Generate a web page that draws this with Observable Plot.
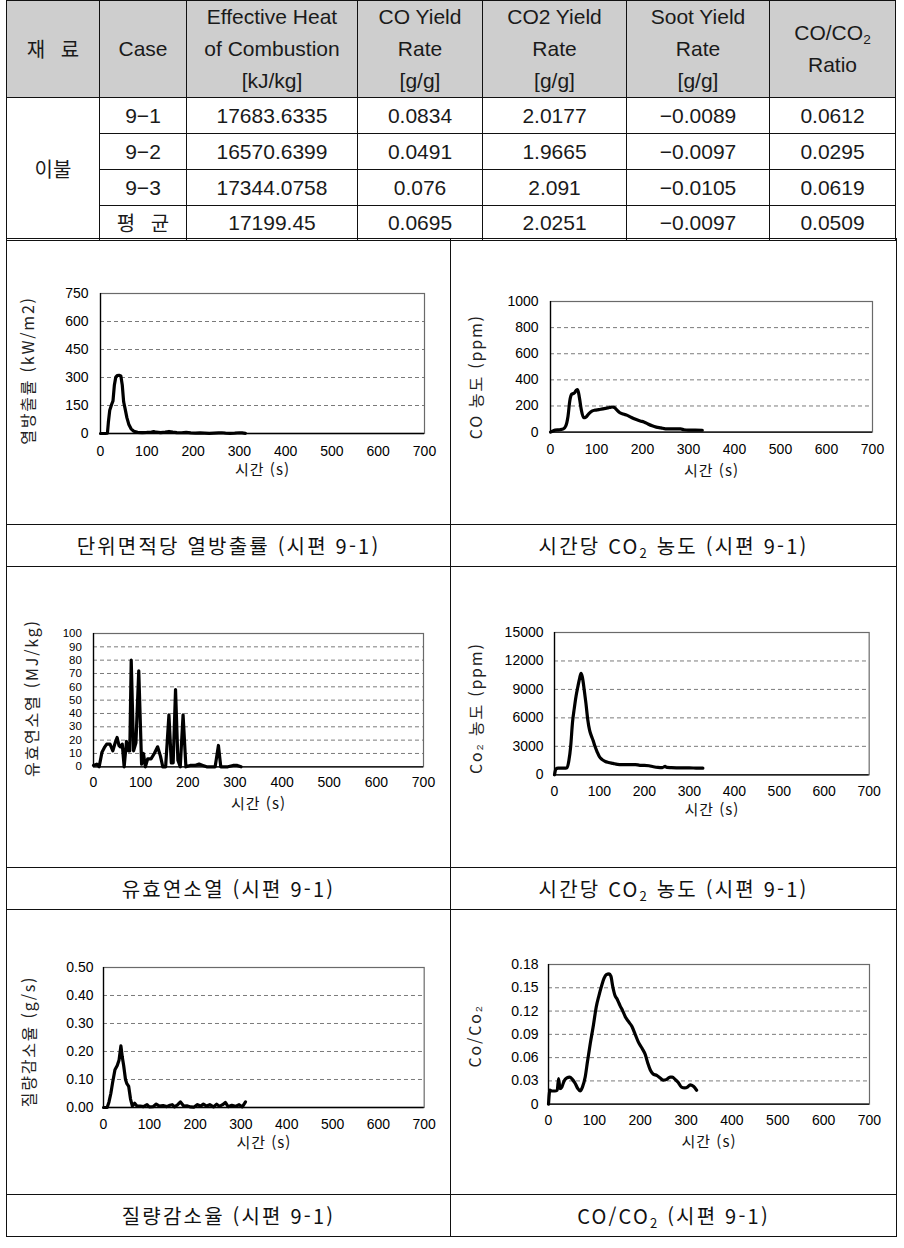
<!DOCTYPE html>
<html lang="ko">
<head>
<meta charset="utf-8">
<script src="https://cdn.jsdelivr.net/npm/d3@7"></script>
<script src="https://cdn.jsdelivr.net/npm/@observablehq/plot@0.6"></script>
<style>
html,body{margin:0;padding:0;background:#fff;}
#page{position:relative;width:904px;height:1248px;overflow:hidden;background:#fff;}
table{position:absolute;border-collapse:collapse;table-layout:fixed;}
td,th{border:1.5px solid #111;padding:0;text-align:center;vertical-align:middle;}
#data{left:6px;top:0;width:890px;font-family:'Liberation Sans','Noto Sans CJK KR',sans-serif;font-size:21px;color:#1a1a1a;}
#data th{background:#cecece;font-weight:normal;line-height:32px;}
#data td{line-height:24px;}
#data .ko{font-family:'Noto Sans CJK KR',sans-serif;font-size:20px;word-spacing:10px;}
#figs{left:6px;top:238px;width:890px;font-family:'Noto Sans CJK KR',sans-serif;font-size:20px;color:#111;}
#figs td.cap{letter-spacing:2.2px;}
sub{font-size:65%;vertical-align:-0.3em;line-height:0;}
</style>
</head>
<body>
<div id="page"></div>
<script>
// ---------------- table data ----------------
const headerLines = [["재 료"], ["Case"], ["Effective Heat", "of Combustion", "[kJ/kg]"], ["CO Yield", "Rate", "[g/g]"], ["CO2 Yield", "Rate", "[g/g]"], ["Soot Yield", "Rate", "[g/g]"], ["CO/CO₂", "Ratio"]];
const materialName = "이불";
const caseLabels = ["9-1", "9-2", "9-3", "평 균"];
const ehcValues = [17683.6335, 16570.6399, 17344.0758, 17199.45];
const coYield = [0.0834, 0.0491, 0.076, 0.0695];
const co2Yield = [2.0177, 1.9665, 2.091, 2.0251];
const sootYield = [-0.0089, -0.0097, -0.0105, -0.0097];
const ratioValues = [0.0612, 0.0295, 0.0619, 0.0509];

// ---------------- chart data ----------------
const xTicks = [0, 100, 200, 300, 400, 500, 600, 700];
const xTitle = "시간 (s)";
const yTitles = ["열방출률 (kW/m2)", "CO 농도 (ppm)", "유효연소열 (MJ/kg)", "Co₂ 농도 (ppm)", "질량감소율 (g/s)", "Co/Co₂"];
const captions = ["단위면적당 열방출률 (시편 9-1)", "시간당 CO₂ 농도 (시편 9-1)", "유효연소열 (시편 9-1)", "시간당 CO₂ 농도 (시편 9-1)", "질량감소율 (시편 9-1)", "CO/CO₂ (시편 9-1)"];

const hrrTicks = [0, 150, 300, 450, 600, 750];
const hrrTime = [0, 5, 10, 15, 17, 20, 24, 27, 30, 33, 36, 40, 44, 47, 50, 53, 57, 61, 66, 72, 80, 90, 100, 110, 115, 120, 130, 140, 148, 156, 165, 175, 185, 195, 205, 215, 225, 235, 245, 255, 262, 270, 280, 290, 300, 306, 313];
const hrrValue = [0, 0, 0, 2, 60, 125, 155, 175, 260, 302, 310, 312, 308, 260, 170, 135, 85, 50, 25, 12, 6, 5, 6, 8, 10, 7, 5, 7, 11, 7, 5, 4, 6, 3, 2, 3, 2, 1, 2, 3, 4, 2, 1, 2, 4, 3, 1];

const coTicks = [0, 200, 400, 600, 800, 1000];
const coTime = [0, 5, 10, 20, 28, 33, 38, 42, 46, 52, 56, 59, 63, 67, 72, 77, 83, 90, 97, 105, 113, 120, 128, 134, 139, 144, 150, 158, 167, 176, 185, 195, 203, 212, 221, 230, 240, 250, 260, 270, 283, 290, 300, 315, 330];
const coValue = [0, 8, 15, 18, 25, 45, 120, 240, 290, 300, 320, 325, 260, 170, 110, 115, 140, 160, 168, 172, 178, 182, 188, 192, 188, 170, 150, 138, 128, 112, 98, 85, 78, 62, 48, 38, 32, 25, 25, 25, 24, 18, 15, 15, 14];

const ehcTicks = [0, 10, 20, 30, 40, 50, 60, 70, 80, 90, 100];
const ehcTime = [0, 7, 12, 18, 24, 28, 35, 41, 46, 50, 54, 57, 61, 65, 70, 74, 77, 80, 85, 90, 96, 102, 106, 110, 115, 122, 129, 136, 142, 147, 153, 160, 165, 169, 174, 179, 184, 190, 196, 205, 215, 224, 232, 240, 250, 258, 265, 270, 285, 296, 305, 313];
const ehcValue = [1, 2, 0, 11, 15, 17, 17, 12, 18, 22, 16, 15, 17, 0, 19, 12, 12, 80, 12, 18, 72, 2, 10, 0, 6, 6, 10, 15, 8, 0, 0, 39, 3, 3, 58, 5, 0, 39, 0, 1, 1, 2, 1, 0, 0, 0, 16, 0, 0, 1, 1, 0];

const co2Ticks = [0, 3000, 6000, 9000, 12000, 15000];
const co2Time = [0, 3, 8, 15, 22, 28, 32, 36, 40, 44, 48, 52, 56, 59, 62, 66, 70, 74, 78, 82, 86, 90, 95, 100, 106, 113, 120, 130, 140, 150, 160, 170, 180, 190, 200, 210, 220, 230, 240, 246, 250, 260, 280, 300, 315, 330];
const co2Value = [0, 600, 700, 700, 700, 750, 1500, 3000, 5500, 7000, 8300, 9300, 10200, 10700, 10300, 9000, 7500, 5800, 4700, 4100, 3600, 3000, 2400, 1900, 1600, 1400, 1300, 1200, 1100, 1080, 1080, 1080, 1080, 1000, 1000, 950, 850, 780, 760, 880, 780, 760, 730, 720, 710, 700];

const mlrTicks = [0, 0.1, 0.2, 0.3, 0.4, 0.5];
const mlrTime = [0, 8, 12, 16, 20, 25, 30, 34, 38, 41, 44, 48, 51, 55, 59, 63, 68, 73, 80, 87, 95, 100, 108, 115, 122, 130, 138, 145, 150, 155, 162, 168, 175, 182, 190, 197, 205, 212, 218, 225, 232, 240, 247, 253, 260, 266, 272, 280, 288, 296, 303, 310];
const mlrValue = [0, 0, 0.02, 0.05, 0.09, 0.135, 0.15, 0.17, 0.22, 0.18, 0.15, 0.1, 0.085, 0.075, 0.03, 0.005, 0.015, 0.005, 0.005, 0.003, 0.01, 0.002, 0.003, 0.012, 0.005, 0.007, 0.003, 0.008, 0.01, 0.002, 0.01, 0.02, 0.005, 0.006, 0.002, 0.001, 0.01, 0.005, 0.012, 0.005, 0.01, 0.002, 0.012, 0.004, 0.01, 0.018, 0.003, 0.008, 0.004, 0.01, 0.002, 0.02];

const ratioTicks = [0, 0.03, 0.06, 0.09, 0.12, 0.15, 0.18];
const ratioTime = [0, 3, 8, 14, 19, 22, 25, 29, 34, 40, 46, 52, 58, 64, 69, 74, 80, 85, 91, 98, 104, 110, 116, 121, 126, 132, 136, 140, 145, 150, 156, 162, 168, 175, 182, 189, 196, 204, 211, 217, 222, 228, 236, 243, 250, 258, 265, 270, 276, 283, 290, 297, 303, 309, 316, 323];
const ratioValue = [0, 0.018, 0.017, 0.017, 0.018, 0.033, 0.02, 0.022, 0.03, 0.034, 0.035, 0.032, 0.027, 0.02, 0.017, 0.022, 0.035, 0.055, 0.078, 0.102, 0.125, 0.14, 0.153, 0.162, 0.167, 0.168, 0.165, 0.152, 0.14, 0.135, 0.127, 0.12, 0.112, 0.106, 0.1, 0.09, 0.08, 0.072, 0.064, 0.052, 0.044, 0.039, 0.037, 0.034, 0.031, 0.032, 0.035, 0.035, 0.032, 0.028, 0.022, 0.021, 0.022, 0.025, 0.023, 0.018];

// ---------------- layout (positions & styles) ----------------
const colWidths = [93, 87, 171, 125, 144, 143, 126];
const rowHeights = [95, 36, 36, 36, 35];
const figRowHeights = [286, 42, 301, 42, 285, 42];

const page = document.getElementById("page");
const sub2 = s => s.replace(/₂/g, "<sub>2</sub>");
const num = v => v < 0 ? "−" + String(Math.abs(v)) : String(v);
const dash = s => s.replace(/(\d)-(\d)/, "$1−$2");

// data table
{
  let html = "<colgroup>" + colWidths.map(w => `<col style="width:${w}px">`).join("") + "</colgroup>";
  html += `<tr style="height:${rowHeights[0]}px">` + headerLines.map((lines, i) =>
    `<th class="${i === 0 ? "ko" : ""}">${lines.map(sub2).join("<br>")}</th>`).join("") + "</tr>";
  caseLabels.forEach((c, i) => {
    html += `<tr style="height:${rowHeights[i + 1]}px">`;
    if (i === 0) html += `<td rowspan="${caseLabels.length}" class="ko">${materialName}</td>`;
    html += `<td class="${/[가-힣]/.test(c) ? "ko" : ""}">${dash(c)}</td>`;
    html += [ehcValues[i], coYield[i], co2Yield[i], sootYield[i], ratioValues[i]].map(v => `<td>${num(v)}</td>`).join("");
    html += "</tr>";
  });
  const t = document.createElement("table");
  t.id = "data";
  t.innerHTML = html;
  page.appendChild(t);
}

// figure grid table
{
  let html = `<colgroup><col style="width:444px"><col style="width:446px"></colgroup>`;
  for (let r = 0; r < 3; r++) {
    html += `<tr style="height:${figRowHeights[2 * r]}px"><td></td><td></td></tr>`;
    html += `<tr style="height:${figRowHeights[2 * r + 1]}px"><td class="cap">${sub2(captions[2 * r])}</td><td class="cap">${sub2(captions[2 * r + 1])}</td></tr>`;
  }
  const t = document.createElement("table");
  t.id = "figs";
  t.innerHTML = html;
  page.appendChild(t);
}

const series = [
  {time: hrrTime, value: hrrValue, ticks: hrrTicks, format: d => String(d), curve: "linear"},
  {time: coTime, value: coValue, ticks: coTicks, format: d => String(d), curve: "monotone-x"},
  {time: ehcTime, value: ehcValue, ticks: ehcTicks, format: d => String(d), curve: "linear"},
  {time: co2Time, value: co2Value, ticks: co2Ticks, format: d => String(d), curve: "monotone-x"},
  {time: mlrTime, value: mlrValue, ticks: mlrTicks, format: d => d.toFixed(2), curve: "linear"},
  {time: ratioTime, value: ratioValue, ticks: ratioTicks, format: d => d === 0 ? "0" : d.toFixed(2), curve: "monotone-x"}
];

const layouts = [
  {frame: [100, 424, 292.7, 432.7], xPad: 13, yPad: 12, yFont: 14, xTitleDy: 37, yTitleDx: -72, yTitleDy: 7},
  {frame: [550, 872, 300.7, 431.3], xPad: 12, yPad: 12, yFont: 14, xTitleDy: 38.7, yTitleDx: -74, yTitleDy: 10},
  {frame: [93.3, 423.3, 632.7, 766], xPad: 10.7, yPad: 11.6, yFont: 11.5, xTitleDy: 37, yTitleDx: -61, yTitleDy: -2},
  {frame: [554.3, 869, 631.7, 774], xPad: 11, yPad: 11, yFont: 14, xTitleDy: 35, yTitleDx: -78, yTitleDy: 4.5},
  {frame: [103.3, 424, 966.7, 1106.7], xPad: 11.6, yPad: 10, yFont: 14, xTitleDy: 35.5, yTitleDx: -74, yTitleDy: 4},
  {frame: [548.3, 869.3, 964.3, 1104], xPad: 11, yPad: 10, yFont: 14, xTitleDy: 37.7, yTitleDx: -73, yTitleDy: 1.5}
];

const koFont = "'Noto Sans CJK KR', sans-serif";

series.forEach((s, k) => {
  const L = layouts[k];
  const [x0, x1, y0, y1] = L.frame;
  const mL = 100, mR = 20, mT = 15, mB = 55;
  const data = s.time.map((t, i) => ({t, v: s.value[i]}));
  const yMin = s.ticks[0], yMax = s.ticks[s.ticks.length - 1];
  const svg = Plot.plot({
    width: (x1 - x0) + mL + mR,
    height: (y1 - y0) + mT + mB,
    marginLeft: mL, marginRight: mR, marginTop: mT, marginBottom: mB,
    style: {background: "transparent", overflow: "visible", fontFamily: "'Liberation Sans', Arial, sans-serif", fontSize: "14px", color: "#000"},
    x: {domain: [0, 700]},
    y: {domain: [yMin, yMax]},
    marks: [
      Plot.gridY({ticks: s.ticks.slice(1, -1), stroke: "#7a7a7a", strokeOpacity: 1, strokeDasharray: "4,3", strokeWidth: 1}),
      Plot.frame({stroke: "#6a6a6a", strokeWidth: 1.2}),
      Plot.ruleX([0], {stroke: "#000", strokeWidth: 1.3}),
      Plot.ruleY([yMin], {stroke: "#000", strokeWidth: 1.3}),
      Plot.axisX({ticks: xTicks, tickSize: 0, tickPadding: L.xPad, label: null, fontSize: 14, fill: "#000"}),
      Plot.axisY({ticks: s.ticks, tickSize: 0, tickPadding: L.yPad, tickFormat: s.format, label: null, fontSize: L.yFont, fill: "#000"}),
      Plot.line(data, {x: "t", y: "v", stroke: "#000", strokeWidth: 3.2, strokeLinejoin: "round", strokeLinecap: "round", curve: s.curve}),
      Plot.text([xTitle], {text: d => d, frameAnchor: "bottom", dy: L.xTitleDy, textAnchor: "middle", lineAnchor: "middle", fontFamily: koFont, fontSize: 15, fill: "#111"}),
      Plot.text([yTitles[k]], {text: d => d, frameAnchor: "left", dx: L.yTitleDx, dy: L.yTitleDy, rotate: -90, textAnchor: "middle", lineAnchor: "middle", fontFamily: koFont, fontSize: 16, fill: "#222"})
    ]
  });
  svg.style.position = "absolute";
  svg.style.left = (x0 - mL) + "px";
  svg.style.top = (y0 - mT) + "px";
  svg.querySelectorAll("text").forEach(el => {
    if (el.textContent === yTitles[k]) el.setAttribute("letter-spacing", "1.8");
    if (el.textContent === xTitle) el.setAttribute("letter-spacing", "1");
  });
  page.appendChild(svg);
});
</script>
</body>
</html>
